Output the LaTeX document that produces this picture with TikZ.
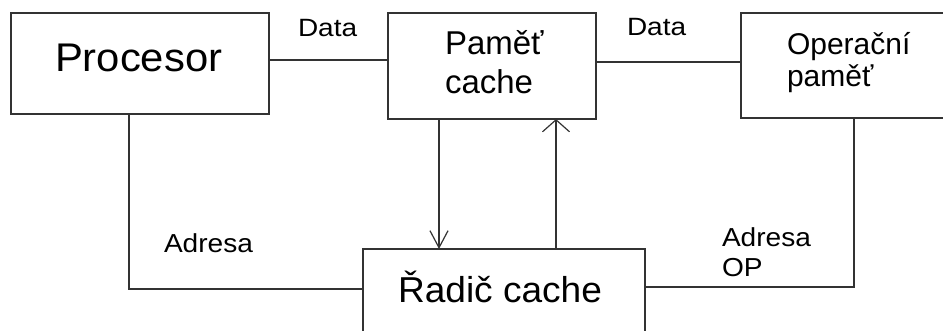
\documentclass[tikz,border=0pt]{standalone}
\usepackage{fontspec}
\setmainfont{Liberation Sans}
\usetikzlibrary{arrows.meta}
\definecolor{linec}{HTML}{333333}
\newcommand{\hstr}[2]{\scalebox{#1}[1]{#2}}
\tikzset{
  box/.style={draw=linec, line width=1.3pt, rectangle, inner sep=0pt, outer sep=0pt},
  conn/.style={draw=linec, line width=1.3pt},
  txt/.style={anchor=base west, inner sep=0pt, outer sep=0pt, text=black},
  fs/.style={font=\fontsize{#1}{#1}\selectfont}
}
\begin{document}
\begin{tikzpicture}[x=1pt,y=-1pt]
\clip (0,0) rectangle (943,331);
\fill[white] (0,0) rectangle (943,331);
% boxes
\node[box, minimum width=258pt, minimum height=101pt] (proc) at (140,63.5) {};
\node[box, minimum width=208pt, minimum height=106pt] (cache) at (492,66) {};
\node[box, minimum width=219pt, minimum height=105pt] (op) at (850.5,65.5) {};
\node[box, minimum width=282pt, minimum height=101pt] (radic) at (504,299.5) {};
% texts
\node[txt, fs=40] (tproc) at (55,72) {\hstr{1.045}{Procesor}};
\node[txt, fs=33] (tcache1) at (445,55) {Paměť};
\node[txt, fs=33] (tcache2) at (445,94) {cache};
\node[txt, fs=30] (top1) at (787,55) {Operační};
\node[txt, fs=30] (top2) at (787,87) {paměť};
\node[txt, fs=36] (tradic) at (398,302) {\hstr{1.03}{Řadič cache}};
\node[txt, fs=25] (tdata1) at (298,37) {\hstr{1.12}{Data}};
\node[txt, fs=25] (tdata2) at (627,36) {\hstr{1.12}{Data}};
\node[txt, fs=26] (tadr) at (164,253) {\hstr{1.08}{Adresa}};
\node[txt, fs=26] (tadrop1) at (722,247) {\hstr{1.08}{Adresa}};
\node[txt, fs=26] (tadrop2) at (722,277) {\hstr{1.08}{OP}};
% helper coordinates
\coordinate (d1) at (0,60);
\coordinate (d2) at (0,62);
\coordinate (xa) at (439,0);
\coordinate (xb) at (556,0);
\coordinate (xp) at (129,289);
\coordinate (xo) at (854,287);
% connectors
\draw[conn] (proc.east |- d1) -- (cache.west |- d1);
\draw[conn] (cache.east |- d2) -- (op.west |- d2);
\draw[conn, -{Straight Barb[length=17pt,width=18pt,line width=1.2pt]}] (cache.south -| xa) -- (radic.north -| xa);
\draw[conn, -{Straight Barb[length=12pt,width=27pt,line width=1.2pt]}] (radic.north -| xb) -- (cache.south -| xb);
\draw[conn] (proc.south -| xp) -- (xp) -- (radic.west |- xp);
\draw[conn] (radic.east |- xo) -- (xo) -- (op.south -| xo);
\end{tikzpicture}
\end{document}
